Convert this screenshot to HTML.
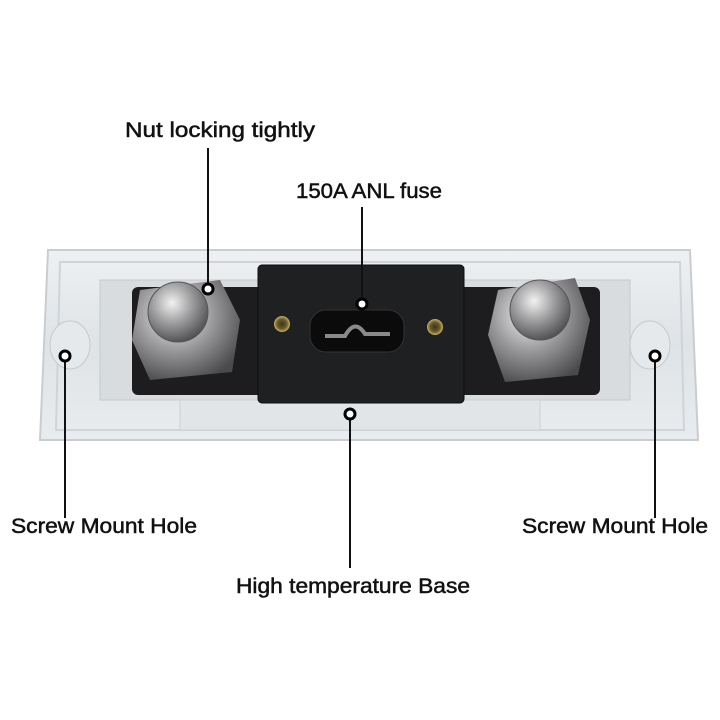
<!DOCTYPE html>
<html><head><meta charset="utf-8"><style>
html,body{margin:0;padding:0;background:#fff;}
svg{display:block}
text{font-family:"Liberation Sans",sans-serif;font-size:21px;fill:#111;stroke:#111;stroke-width:0.5;}
</style></head><body>
<svg width="720" height="720" viewBox="0 0 720 720">
<defs>
<linearGradient id="base" x1="0" y1="0" x2="0" y2="1">
<stop offset="0" stop-color="#eef0f2"/><stop offset="0.5" stop-color="#dfe3e6"/><stop offset="1" stop-color="#e9ecee"/>
</linearGradient>
<radialGradient id="nut" cx="0.4" cy="0.35" r="0.7">
<stop offset="0" stop-color="#f2f2f2"/><stop offset="0.5" stop-color="#9a9a9c"/><stop offset="1" stop-color="#4a4a4c"/>
</radialGradient>
<radialGradient id="brass" cx="0.5" cy="0.5" r="0.5">
<stop offset="0" stop-color="#3a3520"/><stop offset="0.6" stop-color="#6b5a2a"/><stop offset="1" stop-color="#c9b060"/>
</radialGradient>
</defs>
<path d="M48 250 L690 250 L698 440 L40 440 Z" fill="url(#base)" stroke="#c8cdd1" stroke-width="2"/>
<path d="M60 262 L680 262 L684 430 L56 430 Z" fill="none" stroke="#cfd4d8" stroke-width="2"/>
<rect x="100" y="280" width="530" height="120" fill="#d8dcdf" stroke="#c5cace"/>
<rect x="180" y="400" width="360" height="30" fill="#e2e5e8" stroke="#ccd1d4"/>
<ellipse cx="70" cy="345" rx="20" ry="24" fill="#e6e9eb" stroke="#c4c9cd"/>
<ellipse cx="650" cy="345" rx="20" ry="24" fill="#e6e9eb" stroke="#c4c9cd"/>
<rect x="132" y="287" width="468" height="108" rx="6" fill="#1d1d1f"/>
<polygon points="140,290 220,280 240,320 232,372 150,380 132,340" fill="url(#nut)"/>
<circle cx="178" cy="312" r="30" fill="url(#nut)" stroke="#555" stroke-width="1"/>
<polygon points="498,290 575,278 590,320 578,375 505,382 488,335" fill="url(#nut)"/>
<circle cx="540" cy="310" r="30" fill="url(#nut)" stroke="#555" stroke-width="1"/>
<rect x="258" y="265" width="206" height="138" rx="4" fill="#1f2022" stroke="#0e0e0f"/>
<rect x="310" y="310" width="94" height="42" rx="16" fill="#0b0b0c" stroke="#333"/>
<path d="M325 336 L345 336 Q355 318 365 334 L390 334" stroke="#8a8a8a" stroke-width="4" fill="none"/>
<circle cx="282" cy="324" r="8" fill="url(#brass)"/>
<circle cx="435" cy="327" r="8" fill="url(#brass)"/>
<g stroke="#111" stroke-width="2" fill="none">
<line x1="208" y1="148" x2="208" y2="289"/>
<line x1="362" y1="207" x2="362" y2="304"/>
<line x1="350" y1="414" x2="350" y2="568"/>
<line x1="65" y1="356" x2="65" y2="518"/>
<line x1="655" y1="356" x2="655" y2="518"/>
</g>
<g fill="#fff" stroke="#000" stroke-width="3">
<circle cx="208" cy="289" r="5"/>
<circle cx="362" cy="304" r="5"/>
<circle cx="350" cy="414" r="5"/>
<circle cx="65" cy="356" r="5"/>
<circle cx="655" cy="356" r="5"/>
</g>
<text x="125" y="137" textLength="190" lengthAdjust="spacingAndGlyphs">Nut locking tightly</text>
<text x="296" y="198" textLength="146" lengthAdjust="spacingAndGlyphs">150A ANL fuse</text>
<text x="11" y="533" textLength="186" lengthAdjust="spacingAndGlyphs">Screw Mount Hole</text>
<text x="522" y="533" textLength="186" lengthAdjust="spacingAndGlyphs">Screw Mount Hole</text>
<text x="236" y="593" textLength="234" lengthAdjust="spacingAndGlyphs">High temperature Base</text>
</svg>
</body></html>
